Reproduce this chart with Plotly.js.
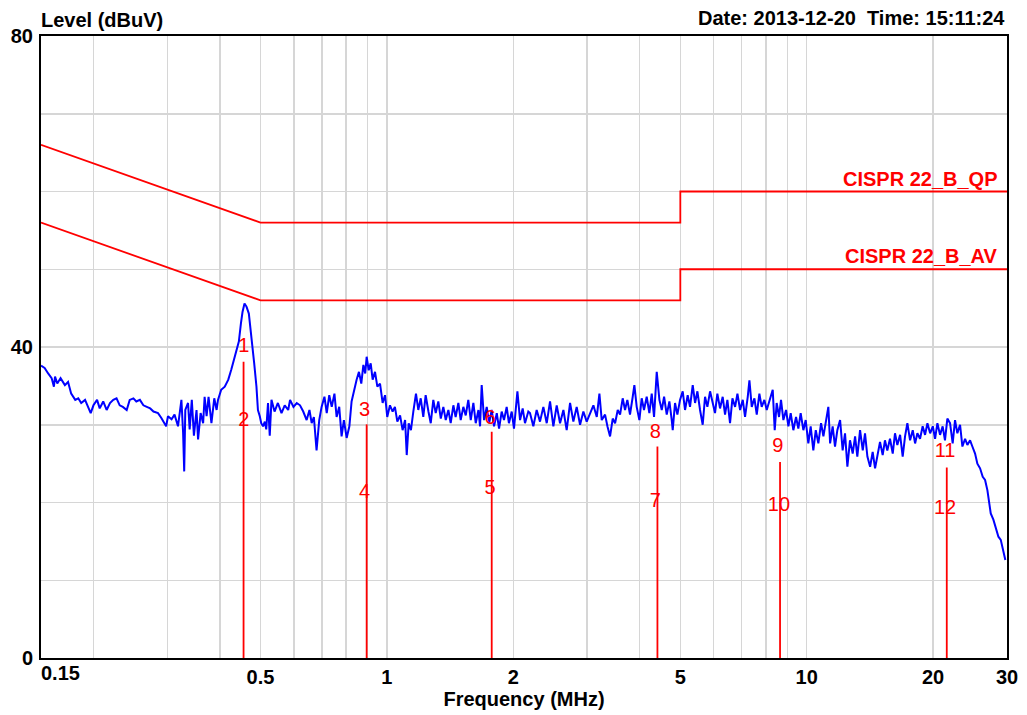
<!DOCTYPE html>
<html>
<head>
<meta charset="utf-8">
<script src="https://cdn.plot.ly/plotly-3.0.1.min.js"></script>
<style>
html,body{margin:0;padding:0;background:#fff;}
#chart{width:1027px;height:715px;}
</style>
</head>
<body>
<div id="chart"></div>
<script>
// ---- Measured level trace (MHz, dBuV) ----
const freqMHz = [
0.150,0.153,0.156,0.159,0.161,0.162,0.164,0.167,0.171,0.174,0.177,0.181,0.184,0.187,0.191,0.194,0.197,0.200,
0.204,0.207,0.211,0.215,0.219,0.223,0.227,0.231,0.235,0.240,0.244,0.249,0.253,0.258,0.263,0.268,0.273,0.278,
0.285,0.290,0.2955,0.298,0.301,0.307,0.312,0.318,0.324,0.327,0.329,0.331,0.336,0.339,0.343,0.347,0.352,0.355,0.360,0.365,0.368,0.372,0.376,0.382,0.388,0.393,0.396,
0.403,0.411,0.419,0.426,0.434,0.440,0.444,0.449,0.453,0.458,0.463,0.469,0.475,0.483,0.489,0.493,0.498,0.502,0.507,0.512,0.516,0.521,
0.526,0.531,0.540,0.550,0.561,0.571,0.582,
0.588,0.599,0.610,0.621,0.632,0.644,0.654,0.662,0.670,0.680,0.690,0.699,0.710,0.719,0.729,0.739,0.750,0.759,0.770,0.780,0.790,0.802,0.814,0.824,0.835,0.847,0.858,0.869,0.879,0.888,0.895,0.905,0.915,0.925,0.937,0.949,0.963,0.977,0.990,
1.002,1.017,1.032,1.045,1.059,1.075,1.090,1.105,1.115,1.127,1.141,1.156,1.173,1.188,1.204,1.221,1.237,1.256,1.272,1.290,1.307,1.326,1.344,1.363,1.381,1.401,1.419,1.440,1.458,1.480,1.499,
1.521,1.541,1.563,1.584,1.607,1.628,1.652,1.667,1.682,1.704,1.729,1.752,1.777,1.800,1.827,1.850,1.877,1.901,1.929,1.953,1.983,2.008,2.046,2.076,2.106,2.133,2.172,
2.192,2.233,2.274,2.316,2.359,2.403,2.447,2.492,2.538,2.585,2.633,2.681,2.731,2.781,2.832,2.885,2.938,2.992,3.048,3.104,3.162,3.208,3.249,3.309,3.352,3.401,3.451,3.496,3.547,3.593,3.645,3.692,3.739,3.794,3.851,3.886,3.936,3.994,
4.045,4.097,4.158,4.219,4.274,4.329,4.393,4.458,4.516,4.574,4.641,4.709,4.770,4.796,4.857,4.920,4.992,5.066,5.131,5.206,5.273,5.352,5.421,5.491,5.571,5.653,5.726,5.800,5.886,5.972,
6.048,6.126,6.217,6.308,6.390,6.472,6.567,6.654,6.752,6.839,6.940,7.042,7.131,7.237,7.304,7.398,7.507,7.604,7.714,7.813,7.928,8.031,
8.179,8.300,8.391,8.482,8.592,8.686,8.799,8.929,9.044,9.160,9.294,9.432,9.552,9.675,9.819,9.945,10.09,10.22,10.37,10.51,10.66,10.82,10.96,11.12,11.26,11.37,11.53,11.68,11.83,12.01,
12.18,12.34,12.50,12.68,12.87,13.04,13.20,13.40,13.60,13.77,13.95,14.16,14.36,14.55,14.73,14.95,15.17,15.36,15.56,15.79,16.03,16.23,16.44,16.69,16.93,17.15,17.37,17.63,17.89,18.12,
18.35,18.62,18.89,19.14,19.39,19.68,19.97,20.22,20.48,20.78,21.08,21.35,21.63,21.95,22.27,22.56,22.85,23.19,23.49,23.84,24.14,24.50,24.81,25.18,25.50,25.88,26.26,26.60,26.94,27.24,
27.44,27.84,28.25,28.62,28.99,29.41,29.73
];
const levelDBuV = [
37.6,37.3,36.6,36.0,34.9,36.2,35.3,36.0,35.1,35.5,34.0,33.2,33.4,32.8,33.2,32.3,31.5,32.5,
33.2,32.1,33.0,31.9,32.8,33.2,33.4,32.5,32.3,31.9,33.2,33.4,33.0,33.2,32.5,32.3,32.1,31.7,
31.5,30.9,30.2,29.8,31.1,30.7,31.3,29.8,33.2,29.0,24.0,31.9,32.8,29.4,33.2,28.6,31.9,28.1,31.5,30.2,33.6,31.1,33.6,30.2,33.4,31.9,33.2,
34.5,34.9,35.8,37.1,38.8,39.8,40.7,43.0,44.5,45.6,45.2,44.3,41.8,37.9,34.9,31.9,31.1,30.2,29.8,30.4,29.4,32.8,
28.6,33.2,31.7,32.8,31.5,32.5,31.9,
33.2,32.3,32.8,32.5,31.7,30.6,31.9,30.2,31.0,26.7,30.6,32.3,33.6,31.5,33.8,32.3,34.0,31.0,32.3,28.5,30.6,28.3,29.8,33.0,34.5,35.8,36.8,35.3,37.7,36.6,38.75,37.0,37.9,35.8,36.8,34.9,35.3,32.8,33.8,
31.0,32.5,31.7,32.3,30.4,31.2,29.3,30.6,26.1,30.2,29.3,31.7,34.0,31.9,33.4,31.0,33.8,31.7,30.2,33.2,31.5,33.0,30.8,32.3,30.6,31.9,30.2,32.5,31.0,32.8,30.6,
32.3,31.2,33.2,30.6,32.8,30.2,31.9,29.8,35.1,30.6,32.3,30.2,31.9,29.8,31.5,29.5,31.7,30.6,32.3,30.2,31.7,29.5,34.3,30.6,32.1,30.2,31.7,
31.5,29.8,31.9,30.4,32.3,30.2,33.0,29.8,32.5,30.2,31.9,29.3,32.8,30.4,32.3,30.0,31.7,30.4,31.5,32.5,31.0,34.0,30.6,31.3,29.8,28.5,30.8,30.2,31.9,31.3,33.4,31.9,33.2,31.3,33.6,35.1,32.3,30.6,
33.4,31.9,33.6,31.5,34.0,31.0,36.8,33.2,31.9,33.6,31.3,33.0,30.6,29.3,32.8,31.3,33.2,34.3,31.9,33.8,32.3,35.1,32.8,34.3,31.9,30.0,33.6,32.3,34.3,32.8,
31.5,34.0,32.1,33.6,31.3,33.2,30.2,33.4,32.3,34.0,31.9,33.2,31.0,33.6,35.7,32.3,33.4,31.3,34.0,32.3,33.2,31.9,
33.2,34.5,29.3,32.8,31.0,33.2,30.6,31.9,29.8,31.5,29.3,31.0,29.5,31.5,29.3,30.6,27.6,29.8,26.7,29.3,27.6,30.2,28.5,30.6,32.3,27.6,29.8,27.2,29.3,30.6,
26.7,28.9,24.6,28.0,26.3,28.5,25.9,29.3,26.7,28.9,25.9,24.6,26.5,24.4,25.9,27.8,26.1,28.0,26.7,28.2,26.3,28.9,27.4,28.7,25.9,28.5,30.2,28.0,29.3,27.6,
28.9,28.2,29.8,28.7,30.2,28.9,29.8,28.2,30.2,28.7,29.8,28.0,30.8,30.2,27.6,30.6,28.9,30.0,27.2,28.2,27.4,28.0,27.2,26.3,25.0,24.4,23.3,22.9,21.6,19.5,
18.6,17.8,16.5,15.6,15.2,13.9,12.6
];

// ---- Limit lines (CISPR 22 class B) ----
const limitFreq = [0.15, 0.5, 0.5, 5, 5, 30];
const qpLimit   = [66, 56, 56, 56, 60, 60];
const avLimit   = [56, 46, 46, 46, 50, 50];
const limitNames = ['CISPR 22_B_QP', 'CISPR 22_B_AV'];
const limitLabelLevel = [60, 50];

// ---- Markers ----
const markerFreq = [0.4556, 0.895, 1.777, 4.41, 8.64, 21.56];
const markerTop  = [38.1, 30.05, 29.1, 27.2, 25.2, 24.5];
const markerLabels    = ['1','2','3','4','5','6','7','8','9','10','11','12'];
const markerLabelFreq = [0.456,0.456,0.885,0.885,1.761,1.761,4.36,4.36,8.54,8.59,21.36,21.36];
const markerLabelLevel= [40.0,30.5,31.8,21.2,21.7,30.8,20.1,29.0,27.1,19.5,26.5,19.2];

// ---- Axes ----
const xGridVals = [0.2,0.3,0.4,0.5,0.6,0.7,0.8,0.9,1,2,3,4,5,6,7,8,9,10,20,30];
const xGridText = ['','','','0.5','','','','','1','2','','','5','','','','','10','20','30'];
const xFirstLabel = '0.15';
const yGridVals = [0,10,20,30,40,50,60,70,80];
const yGridText = ['0','','','','40','','','','80'];
const yTitle = 'Level (dBuV)';
const xTitle = 'Frequency (MHz)';
const dateText = 'Date: 2013-12-20&nbsp;&nbsp;Time: 15:11:24';

const FONT = 'Liberation Sans, Arial, Helvetica, sans-serif';
const boldFont = {family: FONT, size: 20, color: '#000', weight: 'bold'};

const mx = [], my = [];
markerFreq.forEach((f, i) => { mx.push(f, f, null); my.push(0, markerTop[i], null); });

const traces = [
  {x: limitFreq, y: qpLimit, mode: 'lines', line: {color: '#ff0000', width: 1.8}, hoverinfo: 'skip'},
  {x: limitFreq, y: avLimit, mode: 'lines', line: {color: '#ff0000', width: 1.8}, hoverinfo: 'skip'},
  {x: freqMHz, y: levelDBuV, mode: 'lines', line: {color: '#0000ff', width: 2}, hoverinfo: 'skip'},
  {x: mx, y: my, mode: 'lines', line: {color: '#ff0000', width: 1.8}, hoverinfo: 'skip', connectgaps: false},
  {x: markerLabelFreq, y: markerLabelLevel, mode: 'text', text: markerLabels, textposition: 'middle center',
   textfont: {family: FONT, size: 20, color: '#ff0000'}, hoverinfo: 'skip', cliponaxis: false}
];

const annotations = [
  {text: yTitle, xref: 'paper', yref: 'paper', x: 0, y: 1, xanchor: 'left', yanchor: 'bottom', xshift: -2, yshift: 3, showarrow: false, font: boldFont},
  {text: dateText, xref: 'paper', yref: 'paper', x: 1, y: 1, xanchor: 'right', yanchor: 'bottom', xshift: 0, yshift: 5, showarrow: false, font: boldFont},
  {text: xFirstLabel, xref: 'paper', yref: 'paper', x: 0, y: 0, xanchor: 'left', yanchor: 'top', xshift: -2, yshift: -2, showarrow: false, font: boldFont},
  {text: limitNames[0], xref: 'paper', yref: 'y', x: 0.9928, y: limitLabelLevel[0], xanchor: 'right', yanchor: 'bottom', yshift: 0, showarrow: false, font: {family: FONT, size: 20, color: '#ff0000', weight: 'bold'}},
  {text: limitNames[1], xref: 'paper', yref: 'y', x: 0.9928, y: limitLabelLevel[1], xanchor: 'right', yanchor: 'bottom', yshift: 0, showarrow: false, font: {family: FONT, size: 20, color: '#ff0000', weight: 'bold'}}
];

const layout = {
  width: 1027, height: 715,
  margin: {l: 41, r: 20, t: 36, b: 57},
  paper_bgcolor: '#fff', plot_bgcolor: '#fff',
  showlegend: false,
  font: {family: FONT},
  xaxis: {
    type: 'log', range: [Math.log10(0.15), Math.log10(30)],
    tickmode: 'array', tickvals: xGridVals, ticktext: xGridText,
    showgrid: true, gridcolor: '#d6d6d6', gridwidth: 1.5,
    showline: true, mirror: true, linecolor: '#000', linewidth: 2,
    ticks: '', ticklen: 0,
    tickfont: boldFont, zeroline: false,
    title: {text: xTitle, font: boldFont, standoff: 2}
  },
  yaxis: {
    range: [0, 80],
    tickmode: 'array', tickvals: yGridVals, ticktext: yGridText,
    showgrid: true, gridcolor: '#d6d6d6', gridwidth: 1.5,
    showline: true, mirror: true, linecolor: '#000', linewidth: 2,
    ticks: 'outside', ticklen: 2, tickcolor: 'rgba(0,0,0,0)',
    tickfont: boldFont, zeroline: false
  },
  annotations: annotations
};

Plotly.newPlot('chart', traces, layout, {displayModeBar: false, staticPlot: true});
</script>
</body>
</html>
